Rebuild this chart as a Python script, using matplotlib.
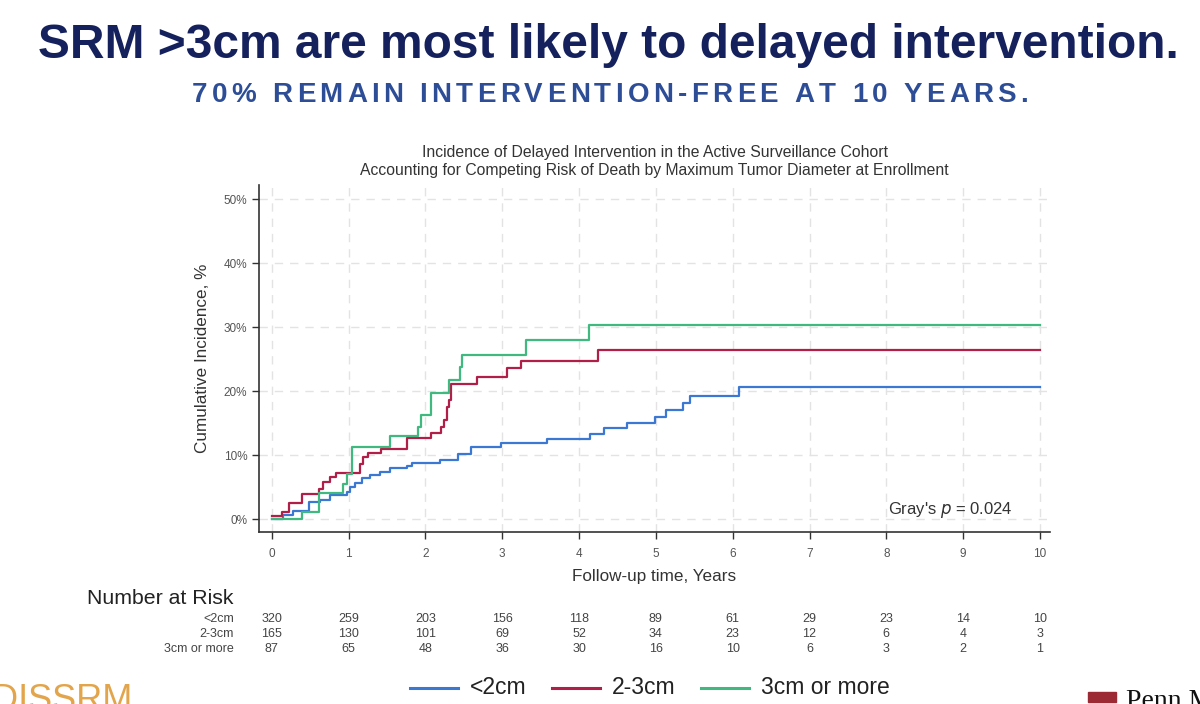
import numpy as np
import matplotlib
matplotlib.use("Agg")
import matplotlib.pyplot as plt
from matplotlib.font_manager import FontProperties
from matplotlib.textpath import TextToPath

plt.rcParams['font.family'] = ['Liberation Sans', 'DejaVu Sans']

# cumulative incidence (%) step points
t_small = [0, 0.15, 0.28, 0.49, 0.63, 0.76, 0.98, 1.02, 1.09, 1.17, 1.28, 1.41, 1.54,
           1.76, 1.82, 2.19, 2.43, 2.60, 2.99, 3.58, 4.14, 4.32, 4.62, 4.99, 5.13,
           5.35, 5.45, 6.08, 10]
ci_small = [0, 0.7, 1.3, 2.7, 3.0, 3.8, 4.3, 5.1, 5.7, 6.4, 6.9, 7.4, 8.0,
            8.4, 8.8, 9.3, 10.2, 11.3, 11.9, 12.6, 13.4, 14.2, 15.0, 16.0, 17.1,
            18.2, 19.2, 20.6, 20.6]

t_mid = [0, 0.13, 0.23, 0.39, 0.61, 0.67, 0.76, 0.84, 1.15, 1.19, 1.26, 1.42, 1.76,
         2.07, 2.21, 2.24, 2.28, 2.31, 2.34, 2.67, 3.06, 3.24, 4.25, 10]
ci_mid = [0.5, 1.2, 2.6, 3.9, 4.7, 5.9, 6.6, 7.3, 8.7, 9.7, 10.3, 11.0, 12.7,
          13.5, 14.4, 15.5, 17.6, 18.6, 21.2, 22.2, 23.6, 24.8, 26.4, 26.4]

t_large = [0, 0.39, 0.62, 0.93, 0.98, 1.04, 1.54, 1.91, 1.94, 2.08, 2.31, 2.45,
           2.48, 3.31, 4.13, 10]
ci_large = [0, 1.2, 4.1, 5.5, 7.1, 11.3, 13.0, 14.4, 16.3, 19.8, 21.7, 23.8,
            25.6, 28.0, 30.3, 30.3]

groups = ['<2cm', '2-3cm', '3cm or more']
colors = ['#3a78d4', '#b11f48', '#3fb97f']

years = list(range(11))
risk_small = [320, 259, 203, 156, 118, 89, 61, 29, 23, 14, 10]
risk_mid = [165, 130, 101, 69, 52, 34, 23, 12, 6, 4, 3]
risk_large = [87, 65, 48, 36, 30, 16, 10, 6, 3, 2, 1]

W, H = 1200, 704
fig = plt.figure(figsize=(W / 100, H / 100), dpi=100)


def fx(x):
    return x / W


def fy(y):
    return 1 - y / H


def spaced(s, x0, x1, y, size, **kw):
    # place characters one by one so the line spans x0..x1 (letter spacing)
    prop = FontProperties(family='Liberation Sans', weight='bold', size=size)
    t2p = TextToPath()
    widths = [t2p.get_text_width_height_descent(c, prop, ismath=False)[0] * 100 / 72 for c in s]
    extra = (x1 - x0 - sum(widths)) / (len(s) - 1)
    x = x0
    for c, w in zip(s, widths):
        fig.text(fx(x), fy(y), c, fontproperties=prop, va='center', ha='left', **kw)
        x += w + extra


# headers
fig.text(fx(608), fy(46), 'SRM >3cm are most likely to delayed intervention.',
         ha='center', va='center', fontsize=34.5, fontweight='bold', color='#15215c')
spaced('70% REMAIN INTERVENTION-FREE AT 10 YEARS.', 192, 1028, 95, 20, color='#2d4e97')

# main axes
x0, x1, ytop, ybot = 259, 1050, 185, 532.3
ax = fig.add_axes([fx(x0), fy(ybot), fx(x1 - x0), (ybot - ytop) / H])
for t, ci, c in [(t_small, ci_small, colors[0]), (t_mid, ci_mid, colors[1]),
                 (t_large, ci_large, colors[2])]:
    ax.step(t, ci, where='post', color=c, lw=1.6)

ax.set_xlim(-0.165, 10.13)
ax.set_ylim(-2.0, 52.2)
ax.set_xticks(years)
ax.set_yticks(range(0, 51, 10))
ax.set_yticklabels(['%d%%' % v for v in range(0, 51, 10)])
ax.grid(True, color='#e3e3e3', lw=1, linestyle=(0, (6, 5)))
for s in ['top', 'right']:
    ax.spines[s].set_visible(False)
for s in ['left', 'bottom']:
    ax.spines[s].set_color('#333333')
    ax.spines[s].set_linewidth(1.2)
ax.tick_params(axis='both', labelsize=8.5, labelcolor='#555555', color='#333333',
               length=5, width=1)
ax.tick_params(axis='x', pad=6)

# chart title, two centred lines
cx = ax.transAxes.transform((0.5, 0))[0] / W
fig.text(cx, fy(152), 'Incidence of Delayed Intervention in the Active Surveillance Cohort',
         ha='center', va='center', fontsize=11.3, color='#333333')
fig.text(cx, fy(170), 'Accounting for Competing Risk of Death by Maximum Tumor Diameter at Enrollment',
         ha='center', va='center', fontsize=11.3, color='#333333')
ax.set_ylabel('Cumulative Incidence, %', fontsize=12.3, color='#333333', labelpad=10)
ax.set_xlabel('Follow-up time, Years', fontsize=12.3, color='#333333', labelpad=7)
ax.text(9.65, 1.5, "Gray's $p$ = 0.024", ha='right', va='center', fontsize=12, color='#333333')

# number at risk table
fig.text(fx(87), fy(598), 'Number at Risk', fontsize=15.3, color='#222222', va='center')
for row, (name, vals) in enumerate(zip(groups, [risk_small, risk_mid, risk_large])):
    y = fy(619 + 15 * row)
    fig.text(fx(234), y, name, ha='right', va='center', fontsize=9, color='#444444')
    for yr, v in zip(years, vals):
        xp = ax.transData.transform((yr, 0))[0] / W
        fig.text(xp, y, str(v), ha='center', va='center', fontsize=9, color='#444444')

# legend
leg_x = [410, 552, 701]
for lx, name, c in zip(leg_x, groups, colors):
    fig.add_artist(plt.Line2D([fx(lx), fx(lx + 48)], [fy(688), fy(688)], color=c, lw=2.2))
    fig.text(fx(lx + 60), fy(688), name, va='center', ha='left', fontsize=16.5, color='#222222')

# logos (partially cut off in the slide)
fig.text(fx(-8), fy(700), 'DISSRM', fontsize=26, color='#e3a54c', va='center', ha='left')
fig.add_artist(plt.Rectangle((fx(1088), fy(702)), fx(28), 10 / H, color='#9b2a35'))
fig.text(fx(1126), fy(702), 'Penn Medicine', fontsize=20, family='Liberation Serif',
         color='#111111', va='center', ha='left')

fig.savefig('out.png', dpi=100, facecolor='white')
